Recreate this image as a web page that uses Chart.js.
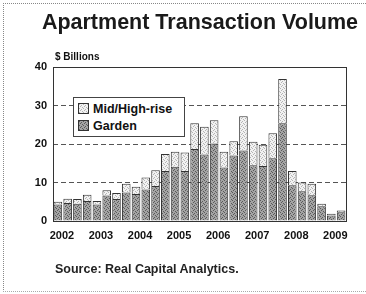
<!DOCTYPE html>
<html>
<head>
<meta charset="utf-8">
<script src="https://cdn.jsdelivr.net/npm/chart.js@4.4.1/dist/chart.umd.min.js"></script>
<style>
  body { margin: 0; background: #fff; font-family: "Liberation Sans", Arial, sans-serif; }
  #wrap { position: relative; width: 366px; height: 294px; overflow: hidden; }
  #frame { position: absolute; left: 3px; top: 3px; width: 370px; height: 287px;
           border-left: 1px dotted #888; border-top: 1px dotted #888; border-bottom: 1px dotted #aaa; }
  #bars { position: absolute; left: 0; top: 0; }
  .txt { position: absolute; color: #111; font-weight: bold; white-space: nowrap; }
  #title { left: 0; width: 400px; text-align: center; top: 10px; font-size: 21.5px; color: #1a1a1a; }
  #unit { left: 55px; top: 51px; font-size: 10px; }
  #source { left: 55px; top: 262px; font-size: 12.5px; font-weight: bold; color: #222; }
  #legend { position: absolute; left: 73px; top: 97px; width: 110px; height: 38px;
            background: #fff; border: 1px solid #444; }
  .item { position: absolute; left: 4px; font-size: 12.5px; font-weight: bold; color: #111; }
  .sw { display: inline-block; width: 9px; height: 9px; border: 1px solid #333;
        vertical-align: -1px; margin-right: 4px; }
</style>
</head>
<body>
<div id="wrap">
  <div id="frame"></div>
  <canvas id="bars" width="366" height="294"></canvas>
  <div class="txt" id="title">Apartment Transaction Volume</div>
  <div class="txt" id="unit">$ Billions</div>
  <div id="legend">
    <div class="item" style="top:4px"><span class="sw" id="sw1"></span>Mid/High-rise</div>
    <div class="item" style="top:21px"><span class="sw" id="sw2"></span>Garden</div>
  </div>
  <div class="txt" id="source">Source: Real Capital Analytics.</div>
</div>
<script>
// quarterly, 2002 Q1 .. 2009 Q2
const years = ['2002', '2003', '2004', '2005', '2006', '2007', '2008', '2009']
const quarters = []
years.forEach(y => ['Q1', 'Q2', 'Q3', 'Q4'].forEach(q => quarters.push(y + ' ' + q)))
quarters.length = 30

const garden = [4.3, 4.7, 4.5, 5.2, 4.3, 6.6, 5.7, 7.4, 7.0, 8.2, 9.1, 13.0, 14.1, 13.0, 18.7,
                17.3, 20.1, 13.9, 17.0, 18.3, 14.5, 14.3, 16.3, 25.4, 9.3, 7.7, 6.7, 3.8, 1.4, 2.3]
const midHigh = [0.7, 1.1, 1.2, 1.6, 0.9, 1.4, 1.6, 2.3, 1.9, 3.1, 4.1, 4.4, 3.9, 4.8, 6.7,
                 7.2, 6.1, 4.1, 3.7, 8.9, 6.1, 5.5, 6.5, 11.5, 3.7, 2.3, 3.0, 0.7, 0.5, 0.4]
const yTicks = [0, 10, 20, 30, 40]

// stipple fills, like the scanned halftone
function stipple(base, dot) {
  const c = document.createElement('canvas')
  c.width = 4; c.height = 4
  const g = c.getContext('2d')
  g.fillStyle = base; g.fillRect(0, 0, 4, 4)
  g.fillStyle = dot
  ;[[0, 0], [2, 1], [1, 2], [3, 3]].forEach(p => g.fillRect(p[0], p[1], 1, 1))
  return c
}
const gardenTile = stipple('#a4a4a4', '#5a5a5a')
const midTile = stipple('#f2f2f2', '#b4b4b4')
const ctx = document.getElementById('bars').getContext('2d')
const gardenFill = ctx.createPattern(gardenTile, 'repeat')
const midFill = ctx.createPattern(midTile, 'repeat')
document.getElementById('sw1').style.background = 'url(' + midTile.toDataURL() + ')'
document.getElementById('sw2').style.background = 'url(' + gardenTile.toDataURL() + ')'

const plotBox = {
  id: 'plotBox',
  afterDatasetsDraw(chart) {
    const a = chart.chartArea, c = chart.ctx
    c.save()
    c.strokeStyle = '#333'
    c.lineWidth = 1
    c.strokeRect(Math.round(a.left) + 0.5, Math.round(a.top) + 0.5,
                 Math.round(a.right - a.left), Math.round(a.bottom - a.top))
    c.restore()
  }
}

new Chart(ctx, {
  type: 'bar',
  data: {
    labels: quarters,
    datasets: [{
      label: 'Garden',
      data: garden,
      backgroundColor: gardenFill,
      borderColor: '#333',
      borderWidth: 1,
    }, {
      label: 'Mid/High-rise',
      data: midHigh,
      backgroundColor: midFill,
      borderColor: '#333',
      borderWidth: 1,
    }],
  },
  options: {
    responsive: false,
    animation: false,
    layout: { padding: { left: 0, top: 67, right: 20, bottom: 53 } },
    datasets: { bar: { categoryPercentage: 1, barPercentage: 0.88 } },
    plugins: { legend: { display: false }, tooltip: { enabled: false } },
    scales: {
      x: {
        stacked: true,
        afterFit: s => { s.height = 20 },
        grid: { display: false },
        border: { display: false },
        ticks: {
          autoSkip: false,
          maxRotation: 0,
          padding: 0,
          labelOffset: 4,
          color: '#111',
          font: { family: 'Liberation Sans', size: 11, weight: 'bold' },
          callback: (v, i) => i % 4 === 0 ? years[i / 4] : '',
        },
      },
      y: {
        stacked: true,
        min: 0,
        max: 40,
        afterFit: s => { s.width = 53 },
        afterBuildTicks: s => { s.ticks = yTicks.map(v => ({ value: v })) },
        border: { display: false, dash: [5, 3] },
        grid: {
          drawTicks: false,
          color: c => (c.tick.value === 0 || c.tick.value === 40) ? 'rgba(0,0,0,0)' : '#555',
          lineWidth: 1,
        },
        ticks: {
          padding: 6,
          color: '#111',
          font: { family: 'Liberation Sans', size: 11, weight: 'bold' },
        },
      },
    },
  },
  plugins: [plotBox],
})
</script>
</body>
</html>
